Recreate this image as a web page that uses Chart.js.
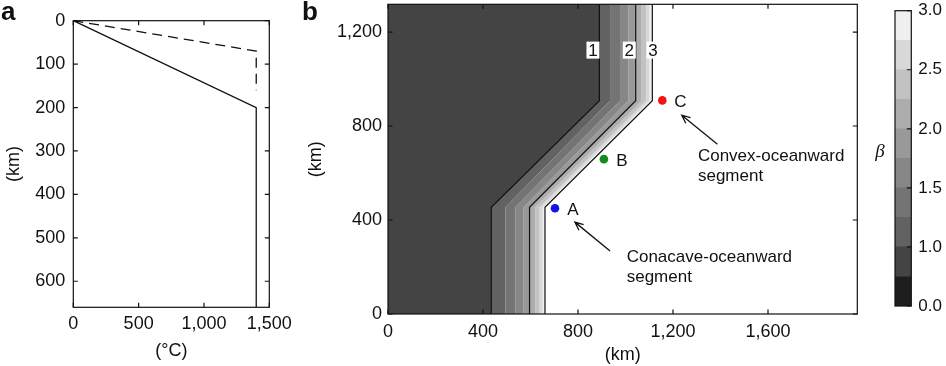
<!DOCTYPE html>
<html>
<head>
<meta charset="utf-8">
<script src="https://cdn.jsdelivr.net/npm/chart.js@4.4.1/dist/chart.umd.min.js"></script>
<style>
  html, body { margin: 0; padding: 0; background: #fff; }
  #wrap { position: relative; width: 946px; height: 366px; }
  #wrap canvas { position: absolute; left: 0; top: 0; }
</style>
</head>
<body>
<div id="wrap">
  <canvas id="chart-a" width="946" height="366"></canvas>
  <canvas id="chart-b" width="946" height="366"></canvas>
  <canvas id="chart-beta" width="946" height="366"></canvas>
</div>
<script>
// panel a: temperature (°C) against depth (km)
const tempSolid = [0, 1400, 1400];
const depthSolid = [0, 200, 660];
const tempDashed = [0, 1400, 1400];
const depthDashed = [0, 70, 160];

// panel b: beta contours, x position (km) below / above the bend
const betaLevels = [1.0, 1.25, 1.5, 1.75, 2.0, 2.25, 2.5, 2.75, 3.0];
const contourY = [0, 454, 908, 1320];
const contourLowX = [435, 494, 536, 571, 596, 620, 638, 651, 661];
const contourHighX = [890, 935, 977, 1012, 1043, 1068, 1087, 1101, 1113];
const ticksBx = [0, 400, 800, 1200, 1600];
const ticksBy = [0, 400, 800, 1200];

// sites A, B, C
const siteNames = ['A', 'B', 'C'];
const siteX = [703, 909, 1155];
const siteY = [450, 659, 909];
const siteColors = ['#1414e6', '#168a1a', '#f01414'];

// colour bar
const barEdges = [0.0, 0.5, 1.0, 1.25, 1.5, 1.75, 2.0, 2.25, 2.5, 2.75, 3.0];
const barTicks = [0.0, 1.0, 1.5, 2.0, 2.5, 3.0];
const barGreys = ['#1e1e1e', '#444444', '#626262', '#747474', '#878787',
                  '#999999', '#adadad', '#c2c2c2', '#d8d8d8', '#efefef'];

Chart.defaults.font.family = "'Liberation Sans', Arial, sans-serif";
Chart.defaults.font.size = 18;
Chart.defaults.color = '#111';
Chart.defaults.animation = false;
Chart.defaults.plugins.legend.display = false;
Chart.defaults.plugins.tooltip.enabled = false;

var INK = '#111';
var NO_GRID = {display: false, drawTicks: false};

function zip(xs, ys) {
  return xs.map(function(x, i) { return {x: x, y: ys[i]}; });
}

function fixWidth(w) {
  return function(scale) { scale.width = w; scale.paddingTop = 0; scale.paddingBottom = 0; };
}
function fixHeight(h) {
  return function(scale) { scale.height = h; scale.paddingLeft = 0; scale.paddingRight = 0; };
}
function setTicks(values) {
  return function(scale) {
    scale.ticks = values.map(function(v) { return {value: v}; });
  };
}

// box round the plot area with inward ticks (matlab look)
function makeFrame(sides) {
  return {
    id: 'frame',
    afterDatasetsDraw: function(chart) {
      var ctx = chart.ctx, a = chart.chartArea, len = 4.5;
      ctx.save();
      ctx.strokeStyle = INK;
      ctx.lineWidth = 1.2;
      ctx.strokeRect(a.left, a.top, a.right - a.left, a.bottom - a.top);
      ctx.beginPath();
      if (sides.x) {
        chart.scales.x.ticks.forEach(function(t) {
          var px = chart.scales.x.getPixelForValue(t.value);
          ctx.moveTo(px, a.bottom); ctx.lineTo(px, a.bottom - len);
          ctx.moveTo(px, a.top); ctx.lineTo(px, a.top + len);
        });
      }
      chart.scales.y.ticks.forEach(function(t) {
        var py = chart.scales.y.getPixelForValue(t.value);
        if (sides.left) { ctx.moveTo(a.left, py); ctx.lineTo(a.left + len, py); }
        if (sides.right) { ctx.moveTo(a.right, py); ctx.lineTo(a.right - len, py); }
      });
      ctx.stroke();
      ctx.restore();
    }
  };
}

function panelLetter(letter, x, y) {
  return {
    id: 'letter',
    afterDraw: function(chart) {
      var ctx = chart.ctx;
      ctx.save();
      ctx.font = "bold 26px 'Liberation Sans', Arial, sans-serif";
      ctx.fillStyle = INK;
      ctx.textBaseline = 'alphabetic';
      ctx.fillText(letter, x, y);
      ctx.restore();
    }
  };
}

function arrow(ctx, x1, y1, x2, y2) {
  var ang = Math.atan2(y2 - y1, x2 - x1), h = 9;
  ctx.beginPath();
  ctx.moveTo(x1, y1); ctx.lineTo(x2, y2);
  ctx.moveTo(x2 - h * Math.cos(ang - 0.42), y2 - h * Math.sin(ang - 0.42));
  ctx.lineTo(x2, y2);
  ctx.lineTo(x2 - h * Math.cos(ang + 0.42), y2 - h * Math.sin(ang + 0.42));
  ctx.stroke();
}

// ---------- panel a ----------
new Chart(document.getElementById('chart-a'), {
  type: 'line',
  data: {
    datasets: [
      {data: zip(tempSolid, depthSolid), borderColor: INK, borderWidth: 1.3, pointRadius: 0, fill: false},
      {data: zip(tempDashed, depthDashed), borderColor: INK, borderWidth: 1.3, borderDash: [10, 6], pointRadius: 0, fill: false}
    ]
  },
  options: {
    responsive: false,
    layout: {padding: {left: 0, top: 20.7, right: 676.7, bottom: 0}},
    scales: {
      x: {
        type: 'linear', min: 0, max: 1500,
        grid: NO_GRID, border: {display: false},
        ticks: {stepSize: 500, padding: 6, maxRotation: 0, includeBounds: false},
        title: {display: true, text: '(°C)', padding: {top: 0, bottom: 4.2}},
        afterFit: fixHeight(58.7)
      },
      y: {
        type: 'linear', reverse: true, min: 0, max: 660,
        grid: NO_GRID, border: {display: false},
        ticks: {stepSize: 100, padding: 8, includeBounds: false},
        title: {display: true, text: '(km)', padding: {top: 3.7, bottom: 0}},
        afterFit: fixWidth(73.3)
      }
    }
  },
  plugins: [makeFrame({x: true, left: true, right: true}), panelLetter('a', 1, 20)]
});

// ---------- panel b ----------
var bDatasets = betaLevels.map(function(level, i) {
  var major = Number.isInteger(level);
  return {
    data: contourY.map(function(y, k) {
      return {x: k < 2 ? contourLowX[i] : contourHighX[i], y: y};
    }),
    borderColor: INK,
    borderWidth: major ? 1.2 : 0,
    backgroundColor: barGreys[barEdges.indexOf(level) - 1],
    fill: i === 0 ? 'origin' : '-1',
    pointRadius: 0
  };
});
bDatasets.push({
  data: zip(siteX, siteY),
  showLine: false,
  fill: false,
  pointRadius: 4.3,
  pointBorderWidth: 0,
  pointBackgroundColor: siteColors
});

var notesB = {
  contourLabels: [{text: '1', x: 863}, {text: '2', x: 1016}, {text: '3', x: 1116}],
  contourLabelY: 1123,
  arrows: [
    {from: [1387, 722], to: [1237, 846]},
    {from: [935, 268], to: [787, 391]}
  ],
  texts: [
    {x: 1305, y: 673, lines: ['Convex-oceanward', 'segment']},
    {x: 1005, y: 242, lines: ['Conacave-oceanward', 'segment']}
  ]
};

var annotateB = {
  id: 'annotateB',
  afterDraw: function(chart) {
    var ctx = chart.ctx, sx = chart.scales.x, sy = chart.scales.y;
    ctx.save();
    ctx.font = "17px 'Liberation Sans', Arial, sans-serif";
    ctx.fillStyle = INK;
    ctx.strokeStyle = INK;
    ctx.lineWidth = 1.3;

    // contour labels in white boxes
    ctx.textAlign = 'center';
    ctx.textBaseline = 'middle';
    var ly = sy.getPixelForValue(notesB.contourLabelY);
    notesB.contourLabels.forEach(function(l) {
      var lx = sx.getPixelForValue(l.x);
      ctx.fillStyle = '#fff';
      ctx.fillRect(lx - 6.5, ly - 8.5, 13, 17);
      ctx.fillStyle = INK;
      ctx.fillText(l.text, lx, ly + 1);
    });

    // site letters next to the dots
    var meta = chart.getDatasetMeta(chart.data.datasets.length - 1);
    meta.data.forEach(function(pt, i) {
      ctx.fillText(siteNames[i], pt.x + 18, pt.y + 2);
    });

    notesB.arrows.forEach(function(a) {
      arrow(ctx, sx.getPixelForValue(a.from[0]), sy.getPixelForValue(a.from[1]),
                 sx.getPixelForValue(a.to[0]), sy.getPixelForValue(a.to[1]));
    });

    ctx.textAlign = 'left';
    notesB.texts.forEach(function(t) {
      var tx = sx.getPixelForValue(t.x), ty = sy.getPixelForValue(t.y);
      t.lines.forEach(function(line, k) { ctx.fillText(line, tx, ty + k * 20); });
    });
    ctx.restore();
  }
};

new Chart(document.getElementById('chart-b'), {
  type: 'line',
  data: {datasets: bDatasets},
  options: {
    responsive: false,
    indexAxis: 'y',
    layout: {padding: {left: 305.4, top: 2.5, right: 88.7, bottom: 0}},
    scales: {
      x: {
        type: 'linear', min: 0, max: 1976,
        grid: NO_GRID, border: {display: false},
        afterBuildTicks: setTicks(ticksBx),
        ticks: {padding: 7, maxRotation: 0},
        title: {display: true, text: '(km)', padding: {top: 0, bottom: 0.2}},
        afterFit: fixHeight(52)
      },
      y: {
        type: 'linear', min: 0, max: 1318,
        grid: NO_GRID, border: {display: false},
        afterBuildTicks: setTicks(ticksBy),
        ticks: {padding: 6},
        title: {display: true, text: '(km)', padding: {top: 0, bottom: 0}},
        afterFit: fixWidth(82.6)
      }
    }
  },
  plugins: [makeFrame({x: true, left: true, right: true}), annotateB, panelLetter('b', 302, 20)]
});

// ---------- colour bar ----------
var betaLabel = {
  id: 'betaLabel',
  afterDraw: function(chart) {
    var ctx = chart.ctx, a = chart.chartArea;
    ctx.save();
    ctx.font = "italic 19px 'Liberation Serif', serif";
    ctx.fillStyle = INK;
    ctx.textAlign = 'center';
    ctx.textBaseline = 'middle';
    ctx.fillText('β', a.left - 15, chart.scales.y.getPixelForValue(5.2));
    ctx.restore();
  }
};

new Chart(document.getElementById('chart-beta'), {
  type: 'bar',
  data: {
    labels: ['β'],
    datasets: barGreys.map(function(c) {
      return {data: [1], backgroundColor: c, borderWidth: 0, barPercentage: 1, categoryPercentage: 1};
    })
  },
  options: {
    responsive: false,
    layout: {padding: {left: 895, top: 10.7, right: 0, bottom: 60}},
    scales: {
      x: {display: false, stacked: true},
      y: {
        position: 'right', stacked: true, min: 0, max: barEdges.length - 1,
        grid: NO_GRID, border: {display: false},
        afterBuildTicks: function(scale) {
          scale.ticks = barTicks.map(function(b) { return {value: barEdges.indexOf(b)}; });
        },
        ticks: {
          padding: 7,
          font: {size: 17},
          callback: function(v) { return barEdges[v].toFixed(1); }
        },
        afterFit: fixWidth(34.7)
      }
    }
  },
  plugins: [makeFrame({x: false, left: false, right: true}), betaLabel]
});
</script>
</body>
</html>
